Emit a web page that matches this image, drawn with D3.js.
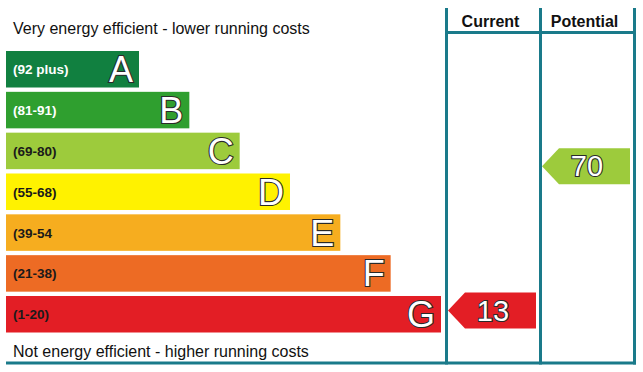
<!DOCTYPE html>
<html>
<head>
<meta charset="utf-8">
<script src="https://cdn.jsdelivr.net/npm/d3@7"></script>
<style>
	body { margin: 0; background: #fff; }
	svg { display: block; font-family: Arial, "Liberation Sans", sans-serif; }
	.band_label { font-size: 13.5px; font-weight: bold; }
	.band_letter { font-size: 36px; fill: #fff; stroke: #2a2a2a; stroke-width: 2.2; paint-order: stroke; }
	.rating_text { font-size: 29px; fill: #fff; stroke: #2a2a2a; stroke-width: 2.2; paint-order: stroke; }
	.frame_line { stroke: #1a7a8a; stroke-width: 3; }
	.head_label { font-size: 16px; font-weight: bold; fill: #111; }
	.note_label { font-size: 16px; fill: #111; }
</style>
</head>
<body>
<svg id="chart" width="643" height="372"></svg>
<script>
// EPC bands, top (most efficient) to bottom
const bands = ['A', 'B', 'C', 'D', 'E', 'F', 'G'];
const rangeLabels = ['(92 plus)', '(81-91)', '(69-80)', '(55-68)', '(39-54', '(21-38)', '(1-20)'];
const bandMin = [92, 81, 69, 55, 39, 21, 1];
const bandMax = [100, 91, 80, 68, 54, 38, 20];
const bandColors = ['#118040', '#2f9f2f', '#9dcb3c', '#fff200', '#f6ad1f', '#ed6b24', '#e31e25'];
const labelColors = ['#fff', '#fff', '#1a1a1a', '#1a1a1a', '#1a1a1a', '#1a1a1a', '#1a1a1a'];

const columns = ['Current', 'Potential'];
const ratings = [13, 70];

const topNote = 'Very energy efficient - lower running costs';
const bottomNote = 'Not energy efficient - higher running costs';

const svg = d3.select('#chart');

const yScale = d3.scaleBand()
	.domain(bands)
	.range([51, 332.5])
	.paddingInner(0.106);

const wScale = d3.scaleLinear()
	.domain([0, bands.length - 1])
	.range([133, 435]);

const colX = d3.scaleBand()
	.domain(columns)
	.range([446.5, 634.5]);

const x0 = 6;

// bars
const gBars = svg.selectAll('.g_band')
	.data(bands).enter()
	.append('g')
	.attr('class', 'g_band')
	.attr('transform', d => 'translate(' + x0 + ',' + yScale(d) + ')');

gBars.append('rect')
	.attr('width', (d, i) => wScale(i))
	.attr('height', yScale.bandwidth())
	.style('fill', (d, i) => bandColors[i]);

gBars.append('text')
	.attr('class', 'band_label')
	.attr('x', 7)
	.attr('y', yScale.bandwidth() / 2 + 5)
	.style('fill', (d, i) => labelColors[i])
	.text((d, i) => rangeLabels[i]);

gBars.append('text')
	.attr('class', 'band_letter')
	.attr('x', (d, i) => wScale(i) - 6)
	.attr('y', yScale.bandwidth() / 2 + 13)
	.attr('text-anchor', 'end')
	.text(d => d);

// notes
svg.append('text')
	.attr('class', 'note_label')
	.attr('x', 13)
	.attr('y', 34)
	.text(topNote);

svg.append('text')
	.attr('class', 'note_label')
	.attr('x', 13)
	.attr('y', 357)
	.text(bottomNote);

// rating arrows
function bandOf(v) {
	return bands.findIndex((b, i) => v >= bandMin[i] && v <= bandMax[i]);
}

ratings.forEach((v, ci) => {
	const bi = bandOf(v);
	const yIn = d3.scaleLinear()
		.domain([bandMax[bi] + 1, bandMin[bi]])
		.range([yScale(bands[bi]), yScale(bands[bi]) + yScale.bandwidth()]);
	const cy = yIn(v);
	const h = 36;
	const left = colX(columns[ci]) + 1.5;
	const right = colX(columns[ci]) + colX.bandwidth() - 4.5;
	const tip = 17;

	svg.append('path')
		.attr('d', 'M' + left + ',' + cy +
			'L' + (left + tip) + ',' + (cy - h / 2) +
			'L' + right + ',' + (cy - h / 2) +
			'L' + right + ',' + (cy + h / 2) +
			'L' + (left + tip) + ',' + (cy + h / 2) + 'Z')
		.style('fill', bandColors[bi]);

	svg.append('text')
		.attr('class', 'rating_text')
		.attr('x', (left + right) / 2 + 1)
		.attr('y', cy + 10)
		.attr('text-anchor', 'middle')
		.text(v);
});

// frame
const colEdges = [colX(columns[0]), colX(columns[1]), colX(columns[1]) + colX.bandwidth()];
svg.selectAll('.col_line')
	.data(colEdges).enter()
	.append('line')
	.attr('class', 'frame_line')
	.attr('x1', d => d).attr('x2', d => d)
	.attr('y1', 8).attr('y2', 364.5);

svg.append('line')
	.attr('class', 'frame_line')
	.attr('x1', colEdges[0]).attr('x2', colEdges[2])
	.attr('y1', 32.5).attr('y2', 32.5);

svg.append('line')
	.attr('class', 'frame_line')
	.attr('x1', x0).attr('x2', colEdges[2] + 1.5)
	.attr('y1', 363).attr('y2', 363);

svg.selectAll('.head_label')
	.data(columns).enter()
	.append('text')
	.attr('class', 'head_label')
	.attr('x', d => colX(d) + colX.bandwidth() / 2 - 3)
	.attr('y', 26.5)
	.attr('text-anchor', 'middle')
	.text(d => d);
</script>
</body>
</html>
